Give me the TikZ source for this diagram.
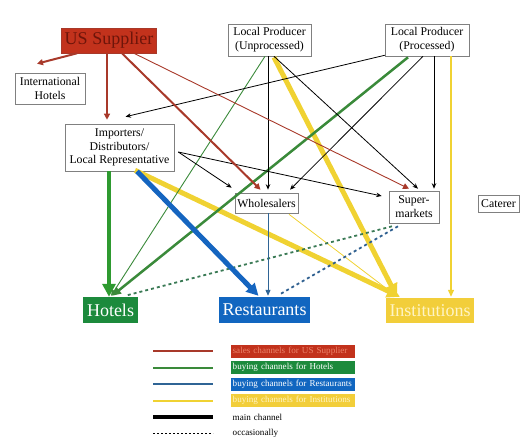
\documentclass[tikz,border=0pt]{standalone}
\usepackage{fontspec}
\setmainfont{Liberation Serif}
\usetikzlibrary{arrows.meta,calc}
\definecolor{redc}{HTML}{A8392A}
\definecolor{usfill}{HTML}{C2321C}
\definecolor{ustext}{HTML}{6E150A}
\definecolor{grc}{HTML}{3A8A3A}
\definecolor{grthick}{HTML}{2E9A30}
\definecolor{hotfill}{HTML}{1C8A3C}
\definecolor{blc}{HTML}{1565C0}
\definecolor{blthin}{HTML}{2F6495}
\definecolor{resfill}{HTML}{1166C0}
\definecolor{ylc}{HTML}{F0D232}
\definecolor{instfill}{HTML}{F2CE3A}
\definecolor{insttext}{HTML}{FFF4C4}
\definecolor{boxline}{HTML}{808080}
\definecolor{dotgr}{HTML}{3A7A55}
\definecolor{dotbl}{HTML}{2F6090}
\tikzset{
  pbox/.style={draw=boxline, line width=0.6pt, fill=white, align=center, inner sep=0pt, font=\fontsize{11.8}{13.8}\selectfont},
  endbox/.style={inner sep=0pt, font=\fontsize{18}{20}\selectfont},
  legbox/.style={anchor=west, inner xsep=1.5pt, inner ysep=0pt, minimum height=13pt, text width=121pt, align=left, font=\fontsize{9.1}{10}\selectfont},
  thinhead/.style={-{Stealth[length=5.5pt,width=4.5pt]}},
  redhead/.style={-{Triangle[length=6pt,width=6pt]}},
}
\begin{document}
\begin{tikzpicture}[x=1pt,y=-1pt]
\useasboundingbox (0,0) rectangle (532,442);
% nodes
\node[fill=usfill, draw=redc, line width=0.6pt, endbox, text=ustext, minimum width=95pt, minimum height=25pt] (us) at (109,40.5) {US Supplier};
\node[pbox, minimum width=70pt, minimum height=31pt] (ih) at (50,88.5) {International\\Hotels};
\node[pbox, minimum width=83pt, minimum height=32pt] (lpu) at (269.5,40) {Local Producer\\(Unprocessed)};
\node[pbox, minimum width=84pt, minimum height=32pt] (lpp) at (427,40) {Local Producer\\(Processed)};
\node[pbox, minimum width=109pt, minimum height=47pt] (imp) at (119.5,147.5) {Importers/\\Distributors/\\Local Representative};
\node[pbox, minimum width=63pt, minimum height=20pt] (wh) at (266.5,203) {Wholesalers};
\node[pbox, minimum width=50pt, minimum height=32pt] (sm) at (414,207) {Super-\\markets};
\node[pbox, minimum width=41pt, minimum height=17pt] (cat) at (498.5,203.5) {Caterer};
\node[endbox, fill=hotfill, text=white, minimum width=55pt, minimum height=26pt] (hot) at (110.5,310) {Hotels};
\node[endbox, fill=resfill, text=white, minimum width=91pt, minimum height=26pt] (res) at (264.5,310) {Restaurants};
\node[endbox, fill=instfill, text=insttext, minimum width=88pt, minimum height=25pt] (inst) at (430,310.5) {Institutions};

% yellow
\draw[ylc, line width=0.8pt, -{Triangle[length=6pt,width=5pt]}] ($(wh.south)+(22.5,1)$) -- ($(inst.north)+(-34,-2)$);
\draw[ylc, line width=1.3pt, -{Triangle[length=7pt,width=6pt]}] ($(lpp.south)+(24,0)$) -- ($(inst.north)+(21,-1)$);
\draw[ylc, line width=5pt, -{Triangle[length=13pt,width=13pt]}] ($(imp.south)+(15.5,-1)$) -- ($(inst.north)+(-30,-1)$);
\draw[ylc, line width=5pt, -{Triangle[length=13pt,width=13pt]}] ($(lpu.south)+(4.5,1)$) -- ($(inst.north)+(-33,-1)$);

% green
\draw[grthick, line width=4.5pt, -{Triangle[length=13pt,width=13pt]}] ($(imp.south)+(-10.5,0)$) -- ($(hot.north)+(-1.5,0)$);
\draw[grc, line width=0.9pt, -{Triangle[length=6pt,width=5pt]}] ($(lpu.south)+(-4.5,0)$) -- ($(hot.north)+(0.5,-1)$);
\draw[grc, line width=2.5pt, -{Triangle[length=9pt,width=8pt]}] ($(lpp.south)+(-19,1)$) -- ($(hot.north)+(1.5,-1)$);
\draw[dotgr, line width=1.8pt, dash pattern=on 3pt off 3pt] ($(sm.south)+(-22,3)$) -- ($(hot.north)+(14.5,-1)$);

% blue
\draw[blc, line width=5pt, -{Triangle[length=12pt,width=12pt]}] ($(imp.south)+(17.5,0)$) -- ($(res.north)+(-6,-1)$);
\draw[blthin, line width=1pt, -{Triangle[length=6pt,width=5pt]}] ($(wh.south)+(1.5,0)$) -- ($(res.north)+(3.5,-1)$);
\draw[dotbl, line width=1.8pt, dash pattern=on 3pt off 3pt] ($(sm.south)+(-16,3)$) -- ($(res.north)+(14.5,-2)$);

% black
\draw[black, line width=0.8pt, thinhead] ($(lpp.south west)+(0,-1)$) -- ($(imp.north)+(6,-7)$);
\draw[black, line width=0.8pt, thinhead] ($(lpu.south)+(-1.5,0)$) -- ($(wh.north)+(1.5,-3)$);
\draw[black, line width=0.8pt, thinhead] ($(lpu.south)+(4.5,0)$) -- ($(sm.north)+(4,-2)$);
\draw[black, line width=0.8pt, thinhead] ($(lpp.south)+(-4,0)$) -- ($(wh.north)+(23.5,-3)$);
\draw[black, line width=0.8pt, thinhead] ($(lpp.south)+(7,0)$) -- ($(sm.north)+(20,-2)$);
\draw[black, line width=0.8pt, thinhead] ($(imp.east)+(4,4.5)$) -- ($(wh.north west)+(-3,-5)$);
\draw[black, line width=0.8pt, thinhead] ($(imp.east)+(4,4.5)$) -- ($(sm.west)+(-7,-11)$);

% red
\draw[redc, line width=2pt, redhead] ($(us.south)+(-32,0)$) -- ($(ih.north)+(-13,-9)$);
\draw[redc, line width=1.3pt, redhead] ($(us.south)+(-2,0)$) -- ($(imp.north)+(-12.5,-4)$);
\draw[redc, line width=2pt, redhead] ($(us.south)+(13,0)$) -- ($(wh.north)+(-6,-3)$);
\draw[redc, line width=0.9pt, redhead] ($(us.south)+(25,0)$) -- ($(sm.north)+(-5,-2)$);

% legend
\coordinate (l1) at (153,351); \coordinate (r1) at (213,351);
\coordinate (l2) at (153,368); \coordinate (r2) at (213,368);
\coordinate (l3) at (153,384); \coordinate (r3) at (213,384);
\coordinate (l4) at (153,401); \coordinate (r4) at (213,401);
\coordinate (l5) at (153,417); \coordinate (r5) at (213,417);
\coordinate (l6) at (153,433); \coordinate (r6) at (213,433);
\draw[redc, line width=2pt] (l1) -- (r1);
\draw[grc, line width=2pt] (l2) -- (r2);
\draw[blthin, line width=2pt] (l3) -- (r3);
\draw[ylc, line width=2pt] (l4) -- (r4);
\draw[black, line width=4pt] (l5) -- (r5);
\draw[black, line width=0.8pt, dash pattern=on 2pt off 2pt] (l6) -- (r6);
\node[legbox, fill=usfill, text={rgb,255:red,236;green,130;blue,105}] (k1) at (231,351) {sales channels for US Supplier};
\node[legbox, fill=hotfill, text=white] (k2) at (231,367.5) {buying channels for Hotels};
\node[legbox, fill=resfill, text=white] (k3) at (231,384) {buying channels for Restaurants};
\node[legbox, fill=instfill, text=insttext] (k4) at (231,400) {buying channels for Institutions};
\node[legbox, text=black] (k5) at (231,417) {main channel};
\node[legbox, text=black] (k6) at (231,433) {occasionally};
\end{tikzpicture}
\end{document}
